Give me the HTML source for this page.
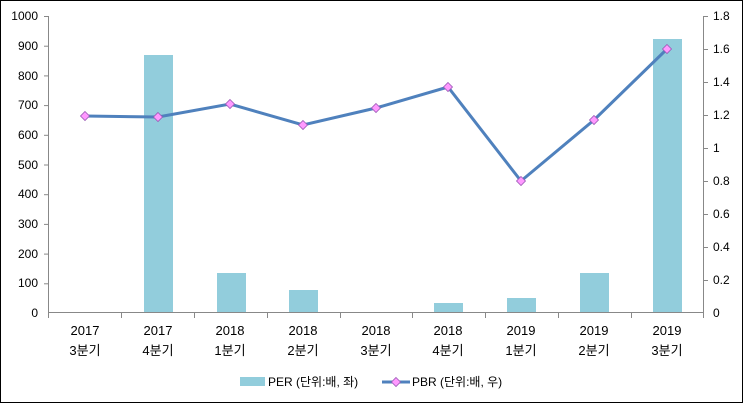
<!DOCTYPE html>
<html><head><meta charset="utf-8"><style>
body{margin:0;background:#fff}
svg{display:block;font-family:"Liberation Sans","Noto Sans CJK KR",sans-serif}
</style></head><body>
<svg width="743" height="403" viewBox="0 0 743 403" xmlns="http://www.w3.org/2000/svg">
<rect x="0.5" y="0.5" width="742" height="402" fill="#fff" stroke="#000"/>
<g fill="#92CDDC">
<rect x="144" y="55" width="29" height="258"/>
<rect x="217" y="273" width="29" height="40"/>
<rect x="289" y="290" width="29" height="23"/>
<rect x="434" y="303" width="29" height="10"/>
<rect x="507" y="298" width="29" height="15"/>
<rect x="580" y="273" width="29" height="40"/>
<rect x="653" y="39" width="29" height="274"/>
</g>
<g stroke="#888" stroke-width="1" fill="none">
<line x1="48.5" y1="16" x2="48.5" y2="313"/>
<line x1="703.5" y1="16" x2="703.5" y2="313"/>
<line x1="48" y1="312.5" x2="704" y2="312.5"/>
</g>
<g stroke="#888">
<line x1="44" y1="16.5" x2="48" y2="16.5"/><line x1="44" y1="46.2" x2="48" y2="46.2"/><line x1="44" y1="75.9" x2="48" y2="75.9"/><line x1="44" y1="105.6" x2="48" y2="105.6"/><line x1="44" y1="135.3" x2="48" y2="135.3"/><line x1="44" y1="165" x2="48" y2="165"/><line x1="44" y1="194.7" x2="48" y2="194.7"/><line x1="44" y1="224.4" x2="48" y2="224.4"/><line x1="44" y1="254.1" x2="48" y2="254.1"/><line x1="44" y1="283.8" x2="48" y2="283.8"/>
<line x1="703" y1="16.5" x2="708" y2="16.5"/><line x1="703" y1="49.5" x2="708" y2="49.5"/><line x1="703" y1="82.5" x2="708" y2="82.5"/><line x1="703" y1="115.5" x2="708" y2="115.5"/><line x1="703" y1="148.5" x2="708" y2="148.5"/><line x1="703" y1="181.5" x2="708" y2="181.5"/><line x1="703" y1="214.5" x2="708" y2="214.5"/><line x1="703" y1="247.5" x2="708" y2="247.5"/><line x1="703" y1="280.5" x2="708" y2="280.5"/>
<line x1="48.5" y1="313" x2="48.5" y2="318"/><line x1="121.5" y1="313" x2="121.5" y2="318"/><line x1="194.5" y1="313" x2="194.5" y2="318"/><line x1="267.5" y1="313" x2="267.5" y2="318"/><line x1="340.5" y1="313" x2="340.5" y2="318"/><line x1="412.5" y1="313" x2="412.5" y2="318"/><line x1="485.5" y1="313" x2="485.5" y2="318"/><line x1="558.5" y1="313" x2="558.5" y2="318"/><line x1="631.5" y1="313" x2="631.5" y2="318"/><line x1="703.5" y1="313" x2="703.5" y2="318"/>
</g>
<g font-size="12" fill="#000" text-anchor="end">
<text x="38" y="20">1000</text><text x="38" y="50">900</text><text x="38" y="80">800</text><text x="38" y="109">700</text><text x="38" y="139">600</text><text x="38" y="169">500</text><text x="38" y="198">400</text><text x="38" y="228">300</text><text x="38" y="258">200</text><text x="38" y="287">100</text><text x="38" y="317">0</text>
</g>
<g font-size="12" fill="#000" text-anchor="start">
<text x="713" y="20">1.8</text><text x="713" y="53">1.6</text><text x="713" y="86">1.4</text><text x="713" y="119">1.2</text><text x="713" y="152">1</text><text x="713" y="185">0.8</text><text x="713" y="218">0.6</text><text x="713" y="251">0.4</text><text x="713" y="284">0.2</text><text x="713" y="317">0</text>
</g>
<g font-size="13" fill="#000" text-anchor="middle">
<text x="85" y="335">2017</text><text x="158" y="335">2017</text><text x="230" y="335">2018</text><text x="303" y="335">2018</text><text x="376" y="335">2018</text><text x="448" y="335">2018</text><text x="521" y="335">2019</text><text x="594" y="335">2019</text><text x="667" y="335">2019</text>
<text x="85" y="355">3분기</text><text x="158" y="355">4분기</text><text x="230" y="355">1분기</text><text x="303" y="355">2분기</text><text x="376" y="355">3분기</text><text x="448" y="355">4분기</text><text x="521" y="355">1분기</text><text x="594" y="355">2분기</text><text x="667" y="355">3분기</text>
</g>
<polyline fill="none" stroke="#4F81BD" stroke-width="3" points="85,116 158,117 230,104 303,125 376,108 448,87 521,181 594,120 667,49"/>
<g fill="#FF99FF" stroke="#9B59B6" stroke-width="0.8">
<path d="M85,111.5l4.5,4.5l-4.5,4.5l-4.5,-4.5z"/>
<path d="M158,112.5l4.5,4.5l-4.5,4.5l-4.5,-4.5z"/>
<path d="M230,99.5l4.5,4.5l-4.5,4.5l-4.5,-4.5z"/>
<path d="M303,120.5l4.5,4.5l-4.5,4.5l-4.5,-4.5z"/>
<path d="M376,103.5l4.5,4.5l-4.5,4.5l-4.5,-4.5z"/>
<path d="M448,82.5l4.5,4.5l-4.5,4.5l-4.5,-4.5z"/>
<path d="M521,176.5l4.5,4.5l-4.5,4.5l-4.5,-4.5z"/>
<path d="M594,115.5l4.5,4.5l-4.5,4.5l-4.5,-4.5z"/>
<path d="M667,44.5l4.5,4.5l-4.5,4.5l-4.5,-4.5z"/>
</g>
<rect x="240" y="377" width="25" height="9" fill="#92CDDC"/>
<text x="268" y="386" font-size="12">PER (단위:배, 좌)</text>
<line x1="382" y1="382" x2="410" y2="382" stroke="#4F81BD" stroke-width="3"/>
<path d="M396,377.5l4.5,4.5l-4.5,4.5l-4.5,-4.5z" fill="#FF99FF" stroke="#9B59B6" stroke-width="0.8"/>
<text x="412" y="386" font-size="12">PBR (단위:배, 우)</text>
</svg>
</body></html>
